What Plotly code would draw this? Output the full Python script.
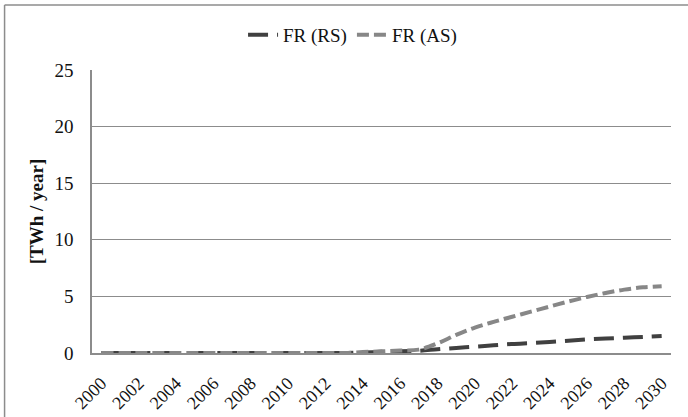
import plotly.graph_objects as go

years = list(range(2000, 2031))
fr_rs = [0, 0, 0, 0, 0, 0, 0, 0, 0, 0, 0, 0, 0, 0, 0.05, 0.1, 0.15, 0.2,
         0.33, 0.45, 0.56, 0.68, 0.8, 0.88, 0.97, 1.08, 1.2, 1.28, 1.35, 1.42, 1.5]
fr_as = [0, 0, 0, 0, 0, 0, 0, 0, 0, 0, 0, 0, 0, 0, 0.08, 0.15, 0.22, 0.3,
         0.85, 1.6, 2.25, 2.75, 3.2, 3.65, 4.1, 4.55, 4.95, 5.3, 5.6, 5.8, 5.9]
y_ticks = [0, 5, 10, 15, 20, 25]
x_ticks = list(range(2000, 2031, 2))

serif = "'Liberation Serif', Tinos, 'Times New Roman', serif"

fig = go.Figure()
fig.add_trace(go.Scatter(
    x=years, y=fr_rs, name="FR (RS)", mode="lines", line_shape="spline",
    line=dict(color="#404040", width=4, dash="20px,9px"),
))
fig.add_trace(go.Scatter(
    x=years, y=fr_as, name="FR (AS)", mode="lines", line_shape="spline",
    line=dict(color="#878787", width=4, dash="12px,5px"),
))

# chart frame: left and top edges
frame = dict(type="line", xref="paper", yref="paper", line=dict(color="#8c8c8c", width=1.5))
fig.add_shape(x0=-0.151, x1=-0.151, y0=-0.3, y1=1.2297, **frame)
fig.add_shape(x0=-0.151, x1=1.2, y0=1.2297, y1=1.2297, **frame)

fig.update_layout(
    width=688, height=417,
    margin=dict(l=92, r=17, t=70, b=64, autoexpand=False),
    paper_bgcolor="white", plot_bgcolor="white",
    font=dict(family=serif, size=19, color="#111111"),
    showlegend=True,
    legend=dict(orientation="h", x=0.45, xanchor="center", y=1.124, yanchor="middle",
                font=dict(family=serif, size=19), bgcolor="rgba(0,0,0,0)"),
    xaxis=dict(range=[1999.5, 2030.5], tickmode="array", tickvals=x_ticks,
               ticktext=[str(t) for t in x_ticks], tickangle=-45, automargin=False,
               showgrid=False, showline=True, linecolor="#8c8c8c", linewidth=1.5,
               zeroline=False, ticks="", ticklabelstandoff=11,
               tickfont=dict(family=serif, size=18)),
    yaxis=dict(range=[0, 25], tickmode="array", tickvals=y_ticks, automargin=False,
               showgrid=True, gridcolor="#8c8c8c", gridwidth=1,
               showline=True, linecolor="#8c8c8c", linewidth=1.5,
               zeroline=False, ticks="", ticklabelstandoff=13,
               tickfont=dict(family=serif, size=19),
               title=dict(text="<b>[TWh / year]</b>", font=dict(family=serif, size=19),
                          standoff=6)),
)

fig.write_html("out.html")
